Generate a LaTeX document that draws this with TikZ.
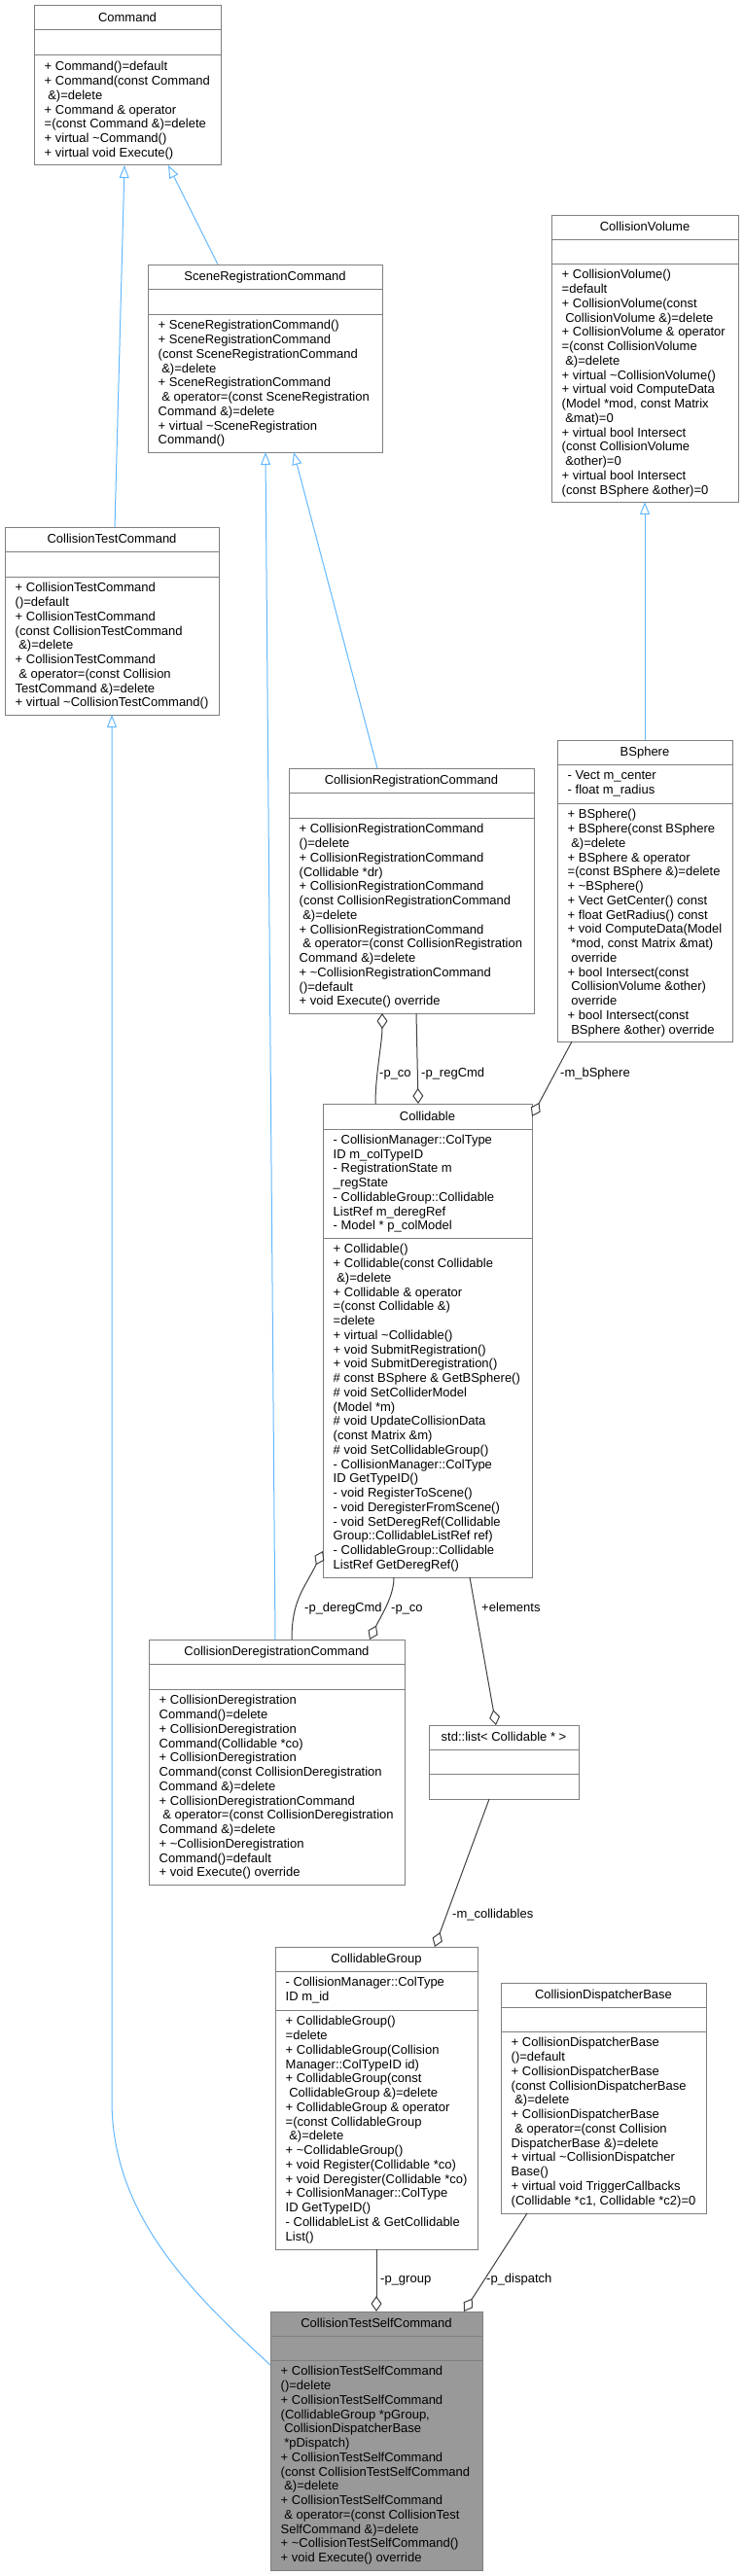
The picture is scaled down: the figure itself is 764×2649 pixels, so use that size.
\documentclass[tikz,border=0pt]{standalone}
\usepackage{fontspec}
\setmainfont{Liberation Sans}
\usetikzlibrary{arrows.meta}
\definecolor{boxgray}{HTML}{7F7F7F}
\definecolor{edgegray}{HTML}{404040}
\definecolor{inheritblue}{HTML}{63B8FF}
\definecolor{selffill}{HTML}{999999}
\newcommand{\tld}{\textasciitilde}
\begin{document}
\begin{tikzpicture}[x=1pt, y=-1pt,
	every node/.style={font=\fontsize{13}{14.75}\selectfont},
	classbox/.style={draw=boxgray, fill=white, line width=1pt, anchor=north west, inner sep=0pt, outer sep=0pt},
	classname/.style={anchor=base, inner sep=0pt},
	members/.style={anchor=north west, align=left, inner sep=0pt, execute at begin node=\strut},
	compsep/.style={draw=boxgray, line width=1pt},
	inherit/.style={draw=inheritblue, line width=1pt, -{Triangle[fill=white, length=13pt, width=10pt]}},
	aggr/.style={draw=edgegray, line width=1pt, {Diamond[fill=white, length=16pt, width=11pt]}-},
	rolelabel/.style={anchor=base west, inner sep=0pt}]
		
		\useasboundingbox (0,0) rectangle (764,2649);
		
		% Command
		\node[classbox, minimum width=192, minimum height=164] (command) at (35,6) {};
		\draw[compsep] ([yshift=-25]command.north west) -- ([yshift=-25]command.north east);
		\draw[compsep] ([yshift=-51]command.north west) -- ([yshift=-51]command.north east);
		\node[classname] (commandName) at ([yshift=-16.5]command.north) {Command};
		\node[members] (commandOps) at ([xshift=10.5, yshift=-57.2]command.north west) {+ Command()=default\\+ Command(const Command\\\ \&)=delete\\+ Command \& operator\\=(const Command \&)=delete\\+ virtual \tld Command()\\+ virtual void Execute()};
		
		% SceneRegistrationCommand
		\node[classbox, minimum width=241, minimum height=193] (scene) at (152,272) {};
		\draw[compsep] ([yshift=-25]scene.north west) -- ([yshift=-25]scene.north east);
		\draw[compsep] ([yshift=-51]scene.north west) -- ([yshift=-51]scene.north east);
		\node[classname] (sceneName) at ([yshift=-16.5]scene.north) {SceneRegistrationCommand};
		\node[members] (sceneOps) at ([xshift=10.5, yshift=-57.2]scene.north west) {+ SceneRegistrationCommand()\\+ SceneRegistrationCommand\\(const SceneRegistrationCommand\\\ \&)=delete\\+ SceneRegistrationCommand\\\ \& operator=(const SceneRegistration\\Command \&)=delete\\+ virtual \tld SceneRegistration\\Command()};
		
		% CollisionTestCommand
		\node[classbox, minimum width=220, minimum height=193] (ctc) at (5,542) {};
		\draw[compsep] ([yshift=-25]ctc.north west) -- ([yshift=-25]ctc.north east);
		\draw[compsep] ([yshift=-51]ctc.north west) -- ([yshift=-51]ctc.north east);
		\node[classname] (ctcName) at ([yshift=-16.5]ctc.north) {CollisionTestCommand};
		\node[members] (ctcOps) at ([xshift=10.5, yshift=-57.2]ctc.north west) {+ CollisionTestCommand\\()=default\\+ CollisionTestCommand\\(const CollisionTestCommand\\\ \&)=delete\\+ CollisionTestCommand\\\ \& operator=(const Collision\\TestCommand \&)=delete\\+ virtual \tld CollisionTestCommand()};
		
		% CollisionVolume
		\node[classbox, minimum width=192, minimum height=295] (cvol) at (567,221) {};
		\draw[compsep] ([yshift=-25]cvol.north west) -- ([yshift=-25]cvol.north east);
		\draw[compsep] ([yshift=-50]cvol.north west) -- ([yshift=-50]cvol.north east);
		\node[classname] (cvolName) at ([yshift=-16.5]cvol.north) {CollisionVolume};
		\node[members] (cvolOps) at ([xshift=10.5, yshift=-56.2]cvol.north west) {+ CollisionVolume()\\=default\\+ CollisionVolume(const\\\ CollisionVolume \&)=delete\\+ CollisionVolume \& operator\\=(const CollisionVolume\\\ \&)=delete\\+ virtual \tld CollisionVolume()\\+ virtual void ComputeData\\(Model *mod, const Matrix\\\ \&mat)=0\\+ virtual bool Intersect\\(const CollisionVolume\\\ \&other)=0\\+ virtual bool Intersect\\(const BSphere \&other)=0};
		
		% CollisionRegistrationCommand
		\node[classbox, minimum width=252, minimum height=252] (crc) at (297,790) {};
		\draw[compsep] ([yshift=-25]crc.north west) -- ([yshift=-25]crc.north east);
		\draw[compsep] ([yshift=-51]crc.north west) -- ([yshift=-51]crc.north east);
		\node[classname] (crcName) at ([yshift=-16.5]crc.north) {CollisionRegistrationCommand};
		\node[members] (crcOps) at ([xshift=10.5, yshift=-57.2]crc.north west) {+ CollisionRegistrationCommand\\()=delete\\+ CollisionRegistrationCommand\\(Collidable *dr)\\+ CollisionRegistrationCommand\\(const CollisionRegistrationCommand\\\ \&)=delete\\+ CollisionRegistrationCommand\\\ \& operator=(const CollisionRegistration\\Command \&)=delete\\+ \tld CollisionRegistrationCommand\\()=default\\+ void Execute() override};
		
		% BSphere
		\node[classbox, minimum width=180, minimum height=310] (bsphere) at (573,761) {};
		\draw[compsep] ([yshift=-25]bsphere.north west) -- ([yshift=-25]bsphere.north east);
		\draw[compsep] ([yshift=-65]bsphere.north west) -- ([yshift=-65]bsphere.north east);
		\node[classname] (bsphereName) at ([yshift=-16.5]bsphere.north) {BSphere};
		\node[members] (bsphereAttrs) at ([xshift=10.5, yshift=-31.2]bsphere.north west) {- Vect m\_center\\- float m\_radius};
		\node[members] (bsphereOps) at ([xshift=10.5, yshift=-71.2]bsphere.north west) {+ BSphere()\\+ BSphere(const BSphere\\\ \&)=delete\\+ BSphere \& operator\\=(const BSphere \&)=delete\\+ \tld BSphere()\\+ Vect GetCenter() const\\+ float GetRadius() const\\+ void ComputeData(Model\\\ *mod, const Matrix \&mat)\\\ override\\+ bool Intersect(const\\\ CollisionVolume \&other)\\\ override\\+ bool Intersect(const\\\ BSphere \&other) override};
		
		% Collidable
		\node[classbox, minimum width=215, minimum height=487] (collidable) at (332,1135) {};
		\draw[compsep] ([yshift=-26]collidable.north west) -- ([yshift=-26]collidable.north east);
		\draw[compsep] ([yshift=-138]collidable.north west) -- ([yshift=-138]collidable.north east);
		\node[classname] (collidableName) at ([yshift=-17]collidable.north) {Collidable};
		\node[members] (collidableAttrs) at ([xshift=10.5, yshift=-31.7]collidable.north west) {- CollisionManager::ColType\\ID m\_colTypeID\\- RegistrationState m\\\_regState\\- CollidableGroup::Collidable\\ListRef m\_deregRef\\- Model * p\_colModel};
		\node[members] (collidableOps) at ([xshift=10.5, yshift=-144.2]collidable.north west) {+ Collidable()\\+ Collidable(const Collidable\\\ \&)=delete\\+ Collidable \& operator\\=(const Collidable \&)\\=delete\\+ virtual \tld Collidable()\\+ void SubmitRegistration()\\+ void SubmitDeregistration()\\\# const BSphere \& GetBSphere()\\\# void SetColliderModel\\(Model *m)\\\# void UpdateCollisionData\\(const Matrix \&m)\\\# void SetCollidableGroup()\\- CollisionManager::ColType\\ID GetTypeID()\\- void RegisterToScene()\\- void DeregisterFromScene()\\- void SetDeregRef(Collidable\\Group::CollidableListRef ref)\\- CollidableGroup::Collidable\\ListRef GetDeregRef()};
		
		% CollisionDeregistrationCommand
		\node[classbox, minimum width=263, minimum height=252] (cdc) at (153,1686) {};
		\draw[compsep] ([yshift=-25]cdc.north west) -- ([yshift=-25]cdc.north east);
		\draw[compsep] ([yshift=-51]cdc.north west) -- ([yshift=-51]cdc.north east);
		\node[classname] (cdcName) at ([yshift=-16.5]cdc.north) {CollisionDeregistrationCommand};
		\node[members] (cdcOps) at ([xshift=10.5, yshift=-57.2]cdc.north west) {+ CollisionDeregistration\\Command()=delete\\+ CollisionDeregistration\\Command(Collidable *co)\\+ CollisionDeregistration\\Command(const CollisionDeregistration\\Command \&)=delete\\+ CollisionDeregistrationCommand\\\ \& operator=(const CollisionDeregistration\\Command \&)=delete\\+ \tld CollisionDeregistration\\Command()=default\\+ void Execute() override};
		
		% std::list< Collidable * >
		\node[classbox, minimum width=154, minimum height=76] (stdlist) at (441,1774) {};
		\draw[compsep] ([yshift=-25]stdlist.north west) -- ([yshift=-25]stdlist.north east);
		\draw[compsep] ([yshift=-50]stdlist.north west) -- ([yshift=-50]stdlist.north east);
		\node[classname] (stdlistName) at ([yshift=-16.5]stdlist.north) {std::list< Collidable * >};
		
		% CollidableGroup
		\node[classbox, minimum width=208, minimum height=311] (group) at (283,2002) {};
		\draw[compsep] ([yshift=-25]group.north west) -- ([yshift=-25]group.north east);
		\draw[compsep] ([yshift=-65]group.north west) -- ([yshift=-65]group.north east);
		\node[classname] (groupName) at ([yshift=-16.5]group.north) {CollidableGroup};
		\node[members] (groupAttrs) at ([xshift=10.5, yshift=-31.2]group.north west) {- CollisionManager::ColType\\ID m\_id};
		\node[members] (groupOps) at ([xshift=10.5, yshift=-71.2]group.north west) {+ CollidableGroup()\\=delete\\+ CollidableGroup(Collision\\Manager::ColTypeID id)\\+ CollidableGroup(const\\\ CollidableGroup \&)=delete\\+ CollidableGroup \& operator\\=(const CollidableGroup\\\ \&)=delete\\+ \tld CollidableGroup()\\+ void Register(Collidable *co)\\+ void Deregister(Collidable *co)\\+ CollisionManager::ColType\\ID GetTypeID()\\- CollidableList \& GetCollidable\\List()};
		
		% CollisionDispatcherBase
		\node[classbox, minimum width=211, minimum height=237] (dispatch) at (515,2039) {};
		\draw[compsep] ([yshift=-25]dispatch.north west) -- ([yshift=-25]dispatch.north east);
		\draw[compsep] ([yshift=-50]dispatch.north west) -- ([yshift=-50]dispatch.north east);
		\node[classname] (dispatchName) at ([yshift=-16.5]dispatch.north) {CollisionDispatcherBase};
		\node[members] (dispatchOps) at ([xshift=10.5, yshift=-56.2]dispatch.north west) {+ CollisionDispatcherBase\\()=default\\+ CollisionDispatcherBase\\(const CollisionDispatcherBase\\\ \&)=delete\\+ CollisionDispatcherBase\\\ \& operator=(const Collision\\DispatcherBase \&)=delete\\+ virtual \tld CollisionDispatcher\\Base()\\+ virtual void TriggerCallbacks\\(Collidable *c1, Collidable *c2)=0};
		
		% CollisionTestSelfCommand (highlighted)
		\node[classbox, fill=selffill, minimum width=218, minimum height=266] (ctsc) at (278,2377) {};
		\draw[compsep] ([yshift=-25]ctsc.north west) -- ([yshift=-25]ctsc.north east);
		\draw[compsep] ([yshift=-50]ctsc.north west) -- ([yshift=-50]ctsc.north east);
		\node[classname] (ctscName) at ([yshift=-16.5]ctsc.north) {CollisionTestSelfCommand};
		\node[members] (ctscOps) at ([xshift=10.5, yshift=-56.2]ctsc.north west) {+ CollisionTestSelfCommand\\()=delete\\+ CollisionTestSelfCommand\\(CollidableGroup *pGroup,\\\ CollisionDispatcherBase\\\ *pDispatch)\\+ CollisionTestSelfCommand\\(const CollisionTestSelfCommand\\\ \&)=delete\\+ CollisionTestSelfCommand\\\ \& operator=(const CollisionTest\\SelfCommand \&)=delete\\+ \tld CollisionTestSelfCommand()\\+ void Execute() override};
		
		% Inheritance
		\coordinate (ctscBend) at (115,2160);
		\draw[inherit] ([xshift=3]ctc.north) -- ([xshift=-3]command.south);
		\draw[inherit] ([xshift=-48.5]scene.north) -- ([xshift=42]command.south);
		\draw[inherit] ([xshift=-1.5]cdc.north) -- ([xshift=0.5]scene.south);
		\draw[inherit] ([xshift=-35]crc.north) -- ([xshift=29.5]scene.south);
		\draw[inherit] (bsphere.north) -- (cvol.south);
		\draw[inherit] ([yshift=-55]ctsc.north west) .. controls (200,2360) and (115,2280) .. (ctscBend) -- (ctc.south);
		
		% Aggregation
		\draw[aggr] ([xshift=-30]crc.south) .. controls +(0,30) and +(0,-30) .. ([xshift=-53.5]collidable.north);
		\draw[aggr] ([xshift=-9.5]collidable.north) -- ([xshift=5]crc.south);
		\draw[aggr] ([yshift=-13]collidable.north east) -- ([xshift=-75]bsphere.south);
		\draw[aggr] ([yshift=27]collidable.south west) .. controls +(-20,40) and +(0,-40) .. ([xshift=15.5]cdc.north);
		\draw[aggr] ([xshift=95.5]cdc.north) .. controls +(12,-25) and +(0,20) .. ([xshift=-34.5]collidable.south);
		\draw[aggr] ([xshift=-8]stdlist.north) -- ([xshift=43.5]collidable.south);
		\draw[aggr] ([xshift=60]group.north) -- ([xshift=-15]stdlist.south);
		\draw[aggr] (ctsc.north) -- (group.south);
		\draw[aggr] ([xshift=90]ctsc.north) -- ([xshift=-78.5]dispatch.south);
		
		% Role labels
		\node[rolelabel] (lblCoReg) at (390,1107) {-p\_co};
		\node[rolelabel] (lblRegCmd) at (433,1107) {-p\_regCmd};
		\node[rolelabel] (lblBSphere) at (576,1107) {-m\_bSphere};
		\node[rolelabel] (lblDeregCmd) at (313,1657) {-p\_deregCmd};
		\node[rolelabel] (lblCoDereg) at (402,1657) {-p\_co};
		\node[rolelabel] (lblElements) at (495,1657) {+elements};
		\node[rolelabel] (lblCollidables) at (465,1972) {-m\_collidables};
		\node[rolelabel] (lblGroup) at (391,2347) {-p\_group};
		\node[rolelabel] (lblDispatch) at (500,2347) {-p\_dispatch};
		
	\end{tikzpicture}
\end{document}
